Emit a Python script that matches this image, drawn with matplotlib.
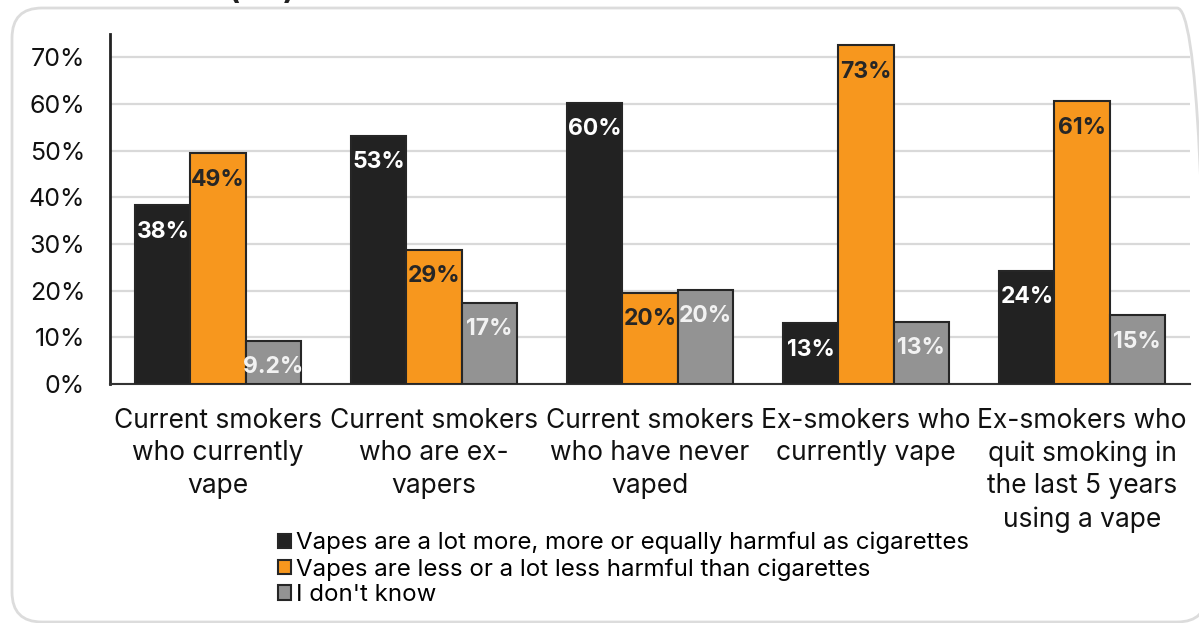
import numpy as np
import matplotlib
matplotlib.use("Agg")
from matplotlib import pyplot as plt
from matplotlib.patches import FancyBboxPatch

# --- data ---
categories = [
    "Current smokers\nwho currently\nvape",
    "Current smokers\nwho are ex-\nvapers",
    "Current smokers\nwho have never\nvaped",
    "Ex-smokers who\ncurrently vape",
    "Ex-smokers who\nquit smoking in\nthe last 5 years\nusing a vape",
]
series_names = [
    "Vapes are a lot more, more or equally harmful as cigarettes",
    "Vapes are less or a lot less harmful than cigarettes",
    "I don't know",
]
more_harmful = [38.3, 53.2, 60.3, 13.0, 24.3]
less_harmful = [49.4, 28.8, 19.5, 72.6, 60.6]
dont_know = [9.2, 17.4, 20.2, 13.3, 14.7]
y_ticks = [0, 10, 20, 30, 40, 50, 60, 70]

# --- style ---
plt.rcParams["font.family"] = ["Inter", "DejaVu Sans"]
bar_colors = ["#222222", "#F7971E", "#939393"]
label_colors = ["#ffffff", "#262626", "#f2f2f2"]
edge_color = "#262626"
grid_color = "#d9d9d9"

W, H = 1199, 623
fig = plt.figure(figsize=(W / 100, H / 100), dpi=100)

# rounded frame around the chart
frame = FancyBboxPatch((12 / W, 1 / H), 1195 / W, 614 / H,
                       boxstyle="round,pad=0,rounding_size=0.025",
                       transform=fig.transFigure, facecolor="none",
                       edgecolor="#dcdcdc", linewidth=2, zorder=-1,
                       mutation_aspect=W / H)
fig.patches.append(frame)

# title, mostly above the top edge
fig.text(295 / W, 1 + 1 / H, "Great Britain (GB)", ha="right", va="baseline",
         fontsize=22, fontweight="bold", color="#222222")

ax = fig.add_axes([110 / W, 239 / H, 1080 / W, 350 / H])
ax.set_facecolor("none")

x = np.arange(len(categories))
width = 0.255
all_series = [more_harmful, less_harmful, dont_know]
for i, values in enumerate(all_series):
    pos = x + (i - 1) * width
    bars = ax.bar(pos, values, width=width, color=bar_colors[i], edgecolor=edge_color,
                  linewidth=1.5, label=series_names[i], zorder=3)
    for b, v in zip(bars, values):
        txt = f"{v:.1f}%" if v < 10 else f"{v:.0f}%"
        ax.annotate(txt, (b.get_x() + b.get_width() / 2, v), xytext=(0, -19),
                    textcoords="offset points", ha="center", va="center",
                    fontsize=16.5, fontweight="bold", color=label_colors[i], zorder=4)

ax.set_xlim(-0.5, len(categories) - 0.5)
ax.set_ylim(0, 75)
ax.set_yticks(y_ticks)
ax.set_yticklabels([f"{t}%" for t in y_ticks], fontsize=18, color="#111111")
ax.set_xticks(x)
ax.set_xticklabels(categories, fontsize=19, color="#111111", linespacing=1.33)
ax.tick_params(axis="both", length=0)
ax.tick_params(axis="x", pad=17)
ax.tick_params(axis="y", pad=18)
ax.grid(axis="y", color=grid_color, linewidth=1.6, zorder=0)
ax.set_axisbelow(True)

for side in ["top", "right"]:
    ax.spines[side].set_visible(False)
ax.spines["left"].set_linewidth(2)
ax.spines["left"].set_color("#222222")
ax.spines["bottom"].set_linewidth(1.5)
ax.spines["bottom"].set_color("#333333")

fig.legend(loc="upper left", bbox_to_anchor=(278 / W, 1 - 532 / H),
           frameon=False, fontsize=17.3, handlelength=0.55, handleheight=0.55,
           handletextpad=0.2, labelspacing=0.15, borderpad=0, borderaxespad=0)

fig.savefig("out.png", dpi=100)
